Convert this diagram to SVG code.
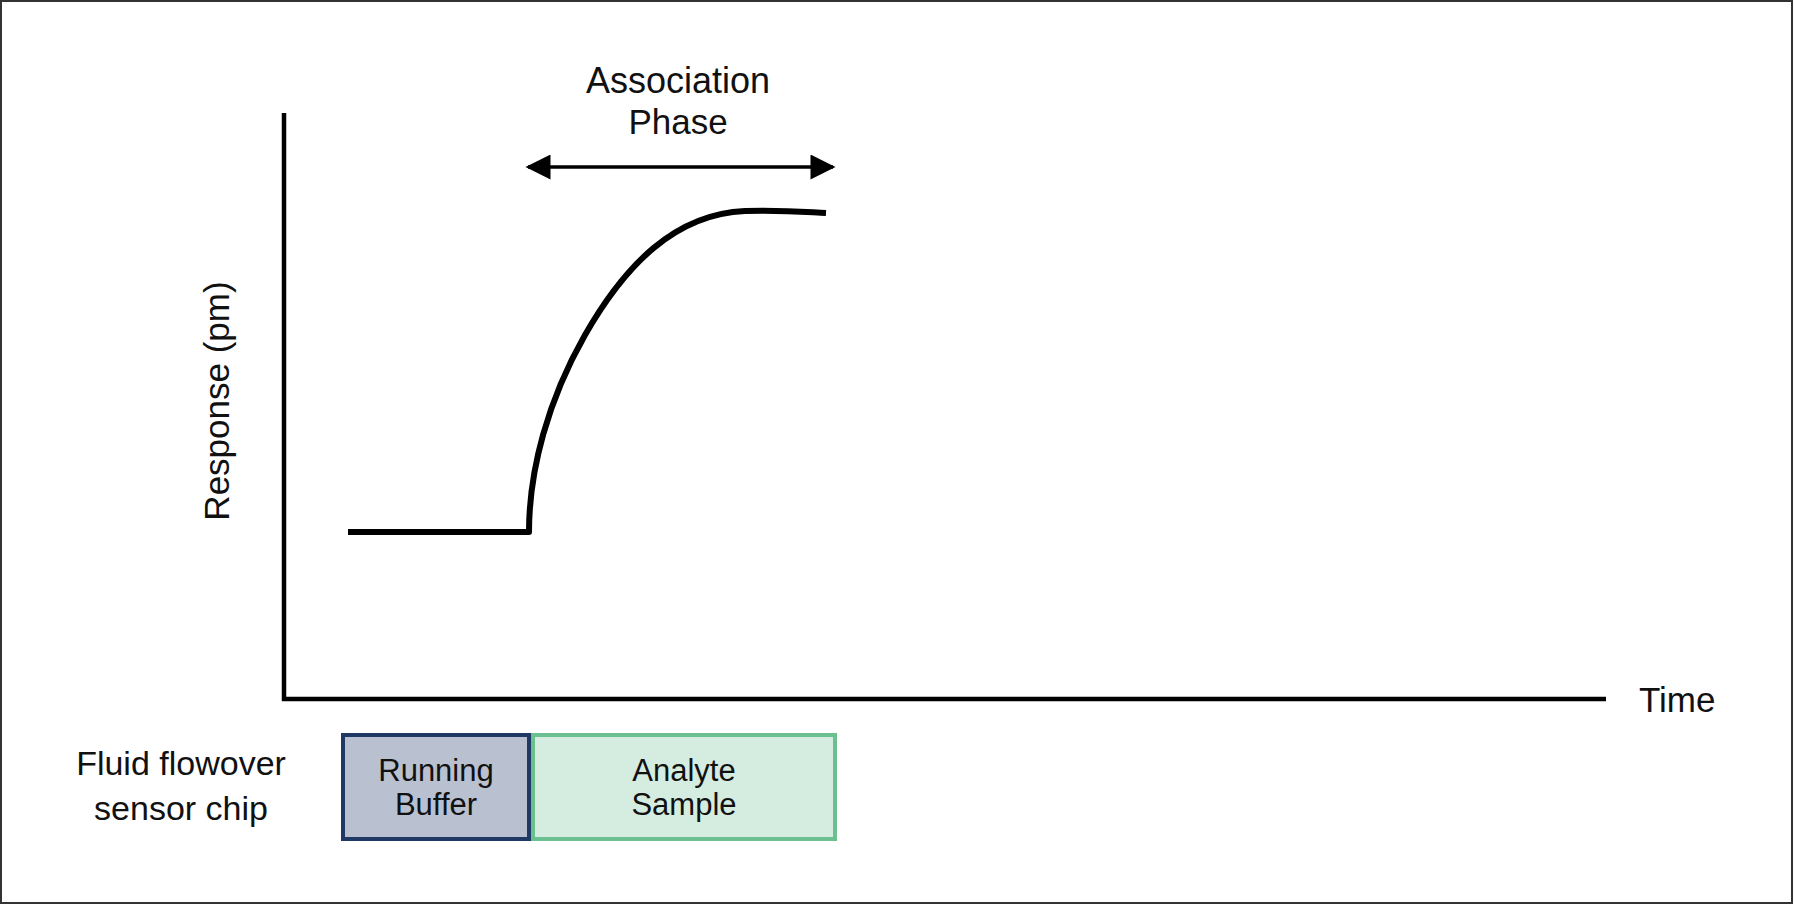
<svg xmlns="http://www.w3.org/2000/svg" width="1793" height="904" viewBox="0 0 1793 904">
  <defs>
    <style>
      .txt { font-family: "Liberation Sans", Arial, sans-serif; fill: #111; }
      .axis { stroke: #000; stroke-width: 4.5; fill: none; }
      .curve { stroke: #000; stroke-width: 6; fill: none; stroke-linejoin: round; }
      .span { stroke: #000; stroke-width: 3.5; fill: none; }
    </style>
    <marker id="head" viewBox="0 0 10 10" refX="9" refY="5" markerUnits="userSpaceOnUse" markerWidth="26" markerHeight="25" orient="auto-start-reverse">
      <path d="M0,0 L10,5 L0,10 Z" fill="#000"/>
    </marker>
  </defs>

  <!-- frame -->
  <rect x="1" y="1" width="1791" height="902" fill="#fff" stroke="#333" stroke-width="2"/>

  <!-- axes -->
  <g id="axes">
    <line class="axis" x1="284" y1="113" x2="284" y2="701"/>
    <line class="axis" x1="282" y1="699" x2="1606" y2="699"/>
    <text class="txt" x="1639" y="712" font-size="35">Time</text>
    <text class="txt" transform="translate(229,401) rotate(-90)" text-anchor="middle" font-size="35">Response (pm)</text>
  </g>

  <!-- sensorgram trace -->
  <g id="trace">
    <path class="curve" d="M348,532 H529 C529,470 548,400 585,335 C625,265 675,214 745,211 C785,210 805,212 826,213"/>
  </g>

  <!-- association phase span -->
  <g id="association-phase">
    <text class="txt" x="678" y="93" text-anchor="middle" font-size="36">Association</text>
    <text class="txt" x="678" y="134" text-anchor="middle" font-size="35">Phase</text>
  </g>

  <g id="connectors">
    <line class="span" x1="528" y1="167" x2="833" y2="167" marker-start="url(#head)" marker-end="url(#head)"/>
  </g>

  <!-- flow labels -->
  <g id="chip-label">
    <text class="txt" x="181" y="775" text-anchor="middle" font-size="34">Fluid flowover</text>
    <text class="txt" x="181" y="820" text-anchor="middle" font-size="34">sensor chip</text>
  </g>

  <g id="running-buffer">
    <rect x="343" y="735" width="186" height="104" fill="#b9c0cf" stroke="#1f3864" stroke-width="4"/>
    <text class="txt" x="436" y="781" text-anchor="middle" font-size="31">Running</text>
    <text class="txt" x="436" y="815" text-anchor="middle" font-size="31">Buffer</text>
  </g>

  <g id="analyte-sample">
    <rect x="533" y="735" width="302" height="104" fill="#d5ece0" stroke="#6cc08f" stroke-width="4"/>
    <text class="txt" x="684" y="781" text-anchor="middle" font-size="31">Analyte</text>
    <text class="txt" x="684" y="815" text-anchor="middle" font-size="31">Sample</text>
  </g>
</svg>
